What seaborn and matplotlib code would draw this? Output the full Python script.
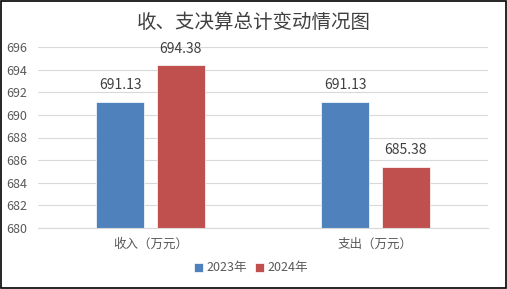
import matplotlib
matplotlib.use("Agg")
import matplotlib.pyplot as plt
from matplotlib.patches import Rectangle
import seaborn as sns
import pandas as pd

categories = ['收入（万元）', '支出（万元）']
years = ['2023年', '2024年']
values_2023 = [691.13, 691.13]
values_2024 = [694.38, 685.38]
colors = ['#4F81BD', '#C0504D']

rows = []
for c, v in zip(categories, values_2023):
    rows.append({'category': c, 'year': years[0], 'value': v})
for c, v in zip(categories, values_2024):
    rows.append({'category': c, 'year': years[1], 'value': v})
df = pd.DataFrame(rows)

sns.set_theme(style='white')
plt.rcParams['font.family'] = ['Noto Sans CJK SC', 'DejaVu Sans']

fig = plt.figure(figsize=(5.07, 2.89), dpi=100)
ax = fig.add_axes([38/507, 1-228/289, 450/507, 181/289])

sns.barplot(data=df, x='category', y='value', hue='year', palette=colors,
            width=0.54, gap=0.21, ax=ax, edgecolor='white', linewidth=0.5,
            saturation=1)

ax.set_ylim(680, 696)
ax.set_yticks(range(680, 697, 2))
ax.yaxis.grid(True, color='#D9D9D9', linewidth=0.8)
ax.set_axisbelow(True)
for s in ['top', 'right', 'left']:
    ax.spines[s].set_visible(False)
ax.spines['bottom'].set_color('#D9D9D9')
ax.spines['bottom'].set_linewidth(0.8)
ax.tick_params(axis='both', length=0, labelsize=9, labelcolor='#595959')
ax.tick_params(axis='y', pad=8)
ax.tick_params(axis='x', pad=7)
ax.set_xlabel('')
ax.set_ylabel('')

for cont in ax.containers:
    ax.bar_label(cont, labels=[f'{v:.2f}' for v in cont.datavalues],
                 padding=7, fontsize=10, color='#404040')

handles, labels = ax.get_legend_handles_labels()
ax.get_legend().remove()
fig.legend(handles, labels, loc='center', bbox_to_anchor=(251/507, 1-268/289),
           ncol=2, frameon=False, fontsize=9, handlelength=0.7, handleheight=0.7,
           handletextpad=0.3, columnspacing=0.6, labelcolor='#595959')

fig.text(0.5, 1-22/289, '收、支决算总计变动情况图', ha='center', va='center',
         fontsize=14, color='#404040')

fig.patches.append(Rectangle((0.001, 0.002), 0.997, 0.996, transform=fig.transFigure,
                             fill=False, edgecolor='black', linewidth=1.2))

fig.savefig('out.png', dpi=100)
